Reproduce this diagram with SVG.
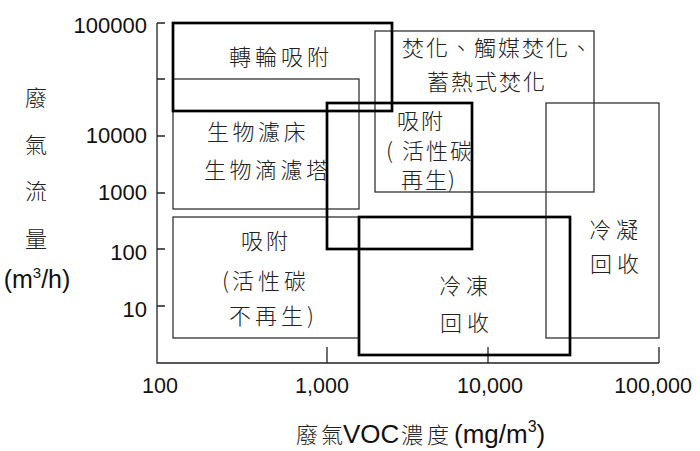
<svg xmlns="http://www.w3.org/2000/svg" width="700" height="451" viewBox="0 0 700 451">
<style>
.bg{fill:#ffffff}
.axis{stroke:#222;stroke-width:1.3;fill:none}
.thin{stroke:#333;stroke-width:1.3;fill:none}
.thick{stroke:#000;stroke-width:2.7;fill:none}
.num{font-family:"Liberation Sans",Arial,sans-serif;font-size:22px;fill:#111}
.xnum{font-family:"Liberation Sans",Arial,sans-serif;font-size:21.5px;fill:#111;text-anchor:middle}
.cjk{font-family:"Noto Sans CJK TC","Noto Sans CJK JP",sans-serif;font-size:22px;font-weight:300;fill:#222}
.lat{font-family:"Liberation Sans",Arial,sans-serif;fill:#111}
</style>
<rect class="bg" x="0" y="0" width="700" height="451"/>

<g id="axes">
  <path class="axis" d="M157,23 V363 H659"/>
  <path class="axis" d="M157,23 H165 M157,79 H165 M157,136 H165 M157,193 H165 M157,249 H165 M157,306 H165"/>
  <path class="axis" d="M327,347 V363 M488,347 V363 M659,347 V363"/>
  <g class="num" text-anchor="end">
    <text x="147" y="33">100000</text>
    <text x="147" y="143">10000</text>
    <text x="147" y="200">1000</text>
    <text x="147" y="260">100</text>
    <text x="147" y="317">10</text>
  </g>
  <g>
    <text class="xnum" x="160" y="393">100</text>
    <text class="xnum" x="322" y="393">1,000</text>
    <text class="xnum" x="490" y="393">10,000</text>
    <text class="xnum" x="653" y="393">100,000</text>
  </g>
  <g id="y-title" text-anchor="middle">
    <text class="cjk" x="36" y="106">廢</text>
    <text class="cjk" x="36" y="153">氣</text>
    <text class="cjk" x="36" y="199">流</text>
    <text class="cjk" x="36" y="247">量</text>
    <text class="lat" x="37" y="288" font-size="25">(m<tspan font-size="15" dy="-10">3</tspan><tspan dy="10">/h)</tspan></text>
  </g>
  <g id="x-title">
    <text y="443"><tspan class="cjk" x="296" font-size="23" letter-spacing="3">廢氣</tspan><tspan class="lat" x="343" font-size="26">VOC</tspan><tspan class="cjk" x="401" font-size="23" letter-spacing="4">濃度</tspan><tspan class="lat" x="454" font-size="26">(mg/m</tspan><tspan class="lat" font-size="16" dy="-11">3</tspan><tspan class="lat" font-size="26" dy="11">)</tspan></text>
  </g>
</g>

<g id="regions-thin">
  <g id="bio">
    <rect class="thin" x="173" y="79" width="186" height="130"/>
    <text class="cjk" x="207" y="140" letter-spacing="3.5">生物濾床</text>
    <text class="cjk" x="204" y="178" letter-spacing="3.5">生物滴濾塔</text>
  </g>
  <g id="incineration">
    <rect class="thin" x="375" y="31" width="219" height="161"/>
    <text class="cjk" x="402" y="56" letter-spacing="2">焚化、觸媒焚化、</text>
    <text class="cjk" x="427" y="89.5" letter-spacing="2">蓄熱式焚化</text>
  </g>
  <g id="condensation">
    <rect class="thin" x="546" y="103" width="113" height="235"/>
    <text class="cjk" x="589" y="237.5" letter-spacing="5">冷凝</text>
    <text class="cjk" x="590" y="272" letter-spacing="5">回收</text>
  </g>
  <g id="adsorption-nonregen">
    <rect class="thin" x="173" y="217" width="186" height="121"/>
    <text class="cjk" x="241" y="248.5" letter-spacing="3">吸附</text>
    <text class="cjk" y="288.5"><tspan x="222">(</tspan><tspan x="232" letter-spacing="4">活性碳</tspan></text>
    <text class="cjk" y="323.5"><tspan x="229" letter-spacing="4">不再生</tspan><tspan x="307">)</tspan></text>
  </g>
</g>

<g id="regions-thick">
  <g id="rotor">
    <rect class="thick" x="173" y="23" width="219" height="88"/>
    <text class="cjk" x="229" y="65" letter-spacing="4">轉輪吸附</text>
  </g>
  <g id="adsorption-regen">
    <rect class="thick" x="327" y="103" width="145" height="146"/>
    <text class="cjk" x="397" y="129" letter-spacing="2">吸附</text>
    <text class="cjk" y="158.5"><tspan x="386">(</tspan><tspan x="402" letter-spacing="2">活性碳</tspan></text>
    <text class="cjk" y="188"><tspan x="401" letter-spacing="2">再生</tspan><tspan x="448">)</tspan></text>
  </g>
  <g id="refrigeration">
    <rect class="thick" x="359" y="217" width="211" height="138"/>
    <text class="cjk" x="439" y="293.5" letter-spacing="5">冷凍</text>
    <text class="cjk" x="440" y="330.5" letter-spacing="5">回收</text>
  </g>
</g>
<g id="connectors"/>
</svg>
